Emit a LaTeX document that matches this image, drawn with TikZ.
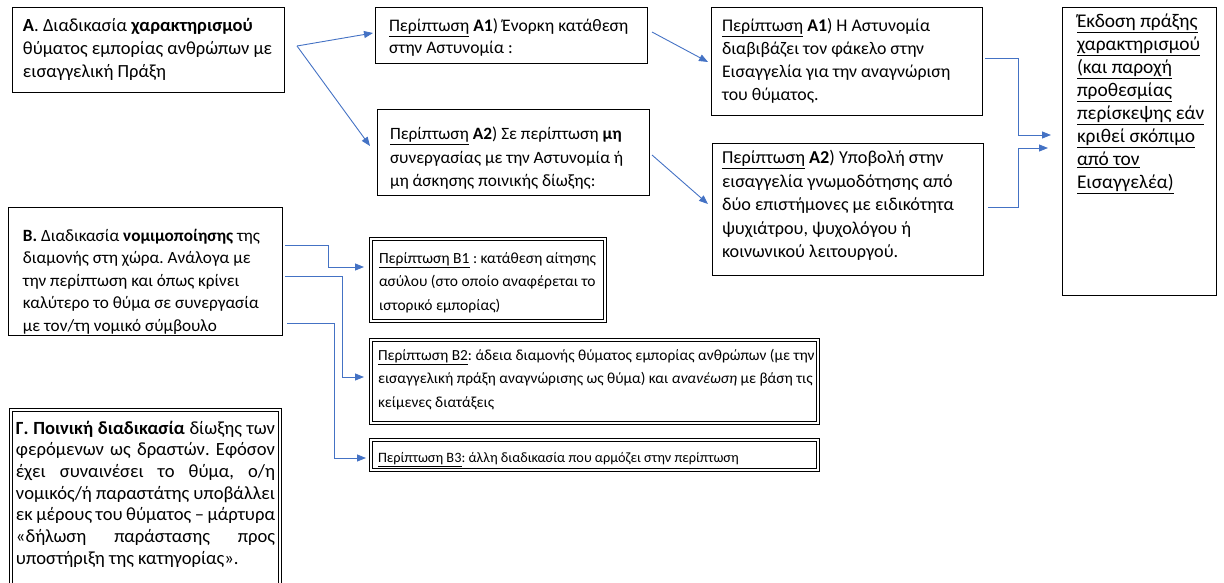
\documentclass[tikz,border=0pt]{standalone}
\usepackage{fontspec}
\setmainfont{Carlito}
\usetikzlibrary{arrows.meta}
\definecolor{linkblue}{HTML}{4472C4}

\begin{document}
\frenchspacing
\begin{tikzpicture}[x=1pt,y=-1pt,
  box/.style={draw=black,line width=0.8pt,anchor=north west,
    inner ysep=0pt,outer sep=0pt},
  tbox/.style={box,align=flush left,
    execute at begin node={\rightskip=-40pt plus 1fil\relax}},
  dbl/.style={double,double distance=2.4pt,line width=0.7pt},
  fsz/.style 2 args={font=\fontsize{#1}{#2}\selectfont},
  arr/.style={draw=linkblue,line width=0.9pt,-{Triangle[length=9pt,width=7pt]}}]
\useasboundingbox (0,0) rectangle (1224,583);
\clip (0,0) rectangle (1224,583);

% A: characterisation
\node[tbox,fsz={18.5}{23},inner xsep=11pt,text width=250pt,text height=25pt,text depth=60pt] (A) at (12,7)
  {\textbf{Α}. Διαδικασία \textbf{χαρακτηρισμού}\\ θύματος εμπορίας ανθρώπων με\\ εισαγγελική Πράξη};
\node[tbox,fsz={17.6}{21.5},inner xsep=14pt,text width=244pt,text height=25pt,text depth=31pt] (A1) at (375,7)
  {\underline{Περίπτωση} \textbf{Α1}) Ένορκη κατάθεση\\ στην Αστυνομία :};
\node[tbox,fsz={17.3}{23.5},inner xsep=13pt,text width=246pt,text height=31pt,text depth=55pt] (A2) at (377,109)
  {\underline{Περίπτωση} \textbf{Α2}) Σε περίπτωση \textbf{μη}\\ συνεργασίας με την Αστυνομία ή\\ μη άσκησης ποινικής δίωξης:};
\node[tbox,fsz={17.8}{22.7},inner xsep=11pt,text width=249pt,text height=25pt,text depth=83pt] (A1p) at (711,7)
  {\underline{Περίπτωση} \textbf{Α1}) Η Αστυνομία\\ διαβιβάζει τον φάκελο στην\\ Εισαγγελία για την αναγνώριση\\ του θύματος.};
\node[tbox,fsz={18.2}{23.5},inner xsep=10pt,text width=251pt,text height=21pt,text depth=111pt] (A2p) at (712,143)
  {\underline{Περίπτωση} \textbf{Α2}) Υποβολή στην\\ εισαγγελία γνωμοδότησης από\\ δύο επιστήμονες με ειδικότητα\\ ψυχιάτρου, ψυχολόγου ή\\ κοινωνικού λειτουργού.};
\node[tbox,fsz={19.4}{23},inner xsep=15pt,text width=124pt,text height=21pt,text depth=267pt] (fin) at (1062,7)
  {\underline{Έκδοση πράξης}\\ \underline{χαρακτηρισμού}\\ \underline{(και παροχή}\\ \underline{προθεσμίας}\\
   \underline{περίσκεψης εάν}\\ \underline{κριθεί σκόπιμο}\\ \underline{από τον}\\ \underline{Εισαγγελέα)}};

% B: residence
\node[tbox,fsz={17.2}{22.5},inner xsep=15pt,text width=244pt,text height=34pt,text depth=94pt] (B) at (8,207)
  {\textbf{Β.} Διαδικασία \textbf{νομιμοποίησης} της\\ διαμονής στη χώρα. Ανάλογα με\\ την περίπτωση και όπως κρίνει\\ καλύτερο το θύμα σε συνεργασία\\ με τον/τη νομικό σύμβουλο};
\node[tbox,dbl,fsz={15.5}{23.5},inner xsep=8pt,text width=218pt,text height=24pt,text depth=58pt] (B1) at (371,239)
  {\underline{Περίπτωση Β1} : κατάθεση αίτησης\\ ασύλου (στο οποίο αναφέρεται το\\ ιστορικό εμπορίας)};
\node[tbox,dbl,fsz={15.4}{23.5},inner xsep=7pt,text width=433pt,text height=20pt,text depth=63pt] (B2) at (371,340)
  {\underline{Περίπτωση Β2}: άδεια διαμονής θύματος εμπορίας ανθρώπων (με την\\ εισαγγελική πράξη αναγνώρισης ως θύμα) και \textit{ανανέωση} με βάση τις\\ κείμενες διατάξεις};
\node[tbox,dbl,fsz={14.3}{23.5},inner xsep=7pt,text width=433pt,text height=22pt,text depth=8pt] (B3) at (371,440)
  {\underline{Περίπτωση Β3}: άλλη διαδικασία που αρμόζει στην περίπτωση};

% Γ: criminal procedure
\node[box,dbl,align=justify,fsz={18.6}{21.7},inner xsep=5pt,text width=259pt,text height=24pt,text depth=180pt] (G) at (11,410)
  {\textbf{Γ. Ποινική διαδικασία} δίωξης των\linebreak φερόμενων ως δραστών. Εφόσον\linebreak
   έχει συναινέσει το θύμα, ο/η\linebreak νομικός/ή παραστάτης υποβάλλει\linebreak
   εκ μέρους του θύματος – μάρτυρα\linebreak «δήλωση παράστασης προς\linebreak
   υποστήριξη της κατηγορίας».};

% connectors
\coordinate (split) at (297,46);
\draw[arr] (split) -- ([xshift=-2pt,yshift=2pt]A1.west);
\draw[arr] (split) -- ([xshift=-7pt,yshift=6pt]A2.west);
\draw[arr] ([xshift=5pt,yshift=3pt]A1.east) -- ([xshift=-3pt,yshift=-1pt]A1p.west);
\draw[arr] ([xshift=3pt,yshift=-3pt]A2.east) -- ([xshift=-4pt,yshift=5pt]A2p.west);
\draw[arr] ([xshift=3pt,yshift=3pt]A1p.east) -- ++(33,0) |- ([xshift=-11pt,yshift=16pt]fin.west);
\draw[arr] ([xshift=5pt,yshift=2pt]A2p.east) -- ++(30,0) |- ([xshift=-14pt,yshift=3pt]fin.west);
\draw[arr] ([xshift=3pt,yshift=26pt]B.east) -- ++(43,0) |- ([xshift=-7pt,yshift=13pt]B1.west);
\draw[arr] ([xshift=3pt,yshift=-5pt]B.east) -- ++(57,0) |- ([xshift=-7pt,yshift=4.5pt]B2.west);
\draw[arr] ([xshift=5pt,yshift=-52pt]B.east) -- ++(47,0) |- ([xshift=-5pt,yshift=-3pt]B3.west);
\end{tikzpicture}
\end{document}
